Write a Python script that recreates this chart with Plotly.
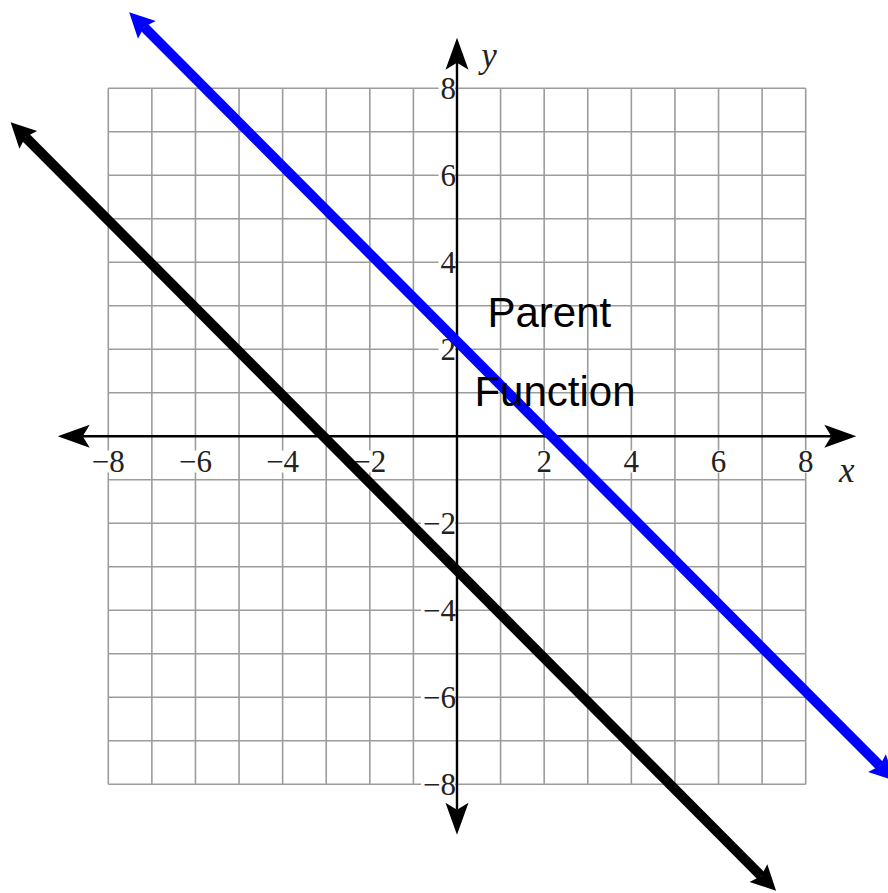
import math

import plotly.graph_objects as go

# canvas / axis window (the graph paper fills the whole picture)
W, H = 888, 893
X_RANGE = [-10.484, 9.888]
Y_RANGE = [-10.50, 10.03]

GRID = list(range(-8, 9))
X_TICKS = [-8, -6, -4, -2, 2, 4, 6, 8]
X_LABELS = ["−8", "−6", "−4", "−2", "2", "4", "6", "8"]
Y_TICKS = [8, 6, 4, 2, -2, -4, -6, -8]
Y_LABELS = ["8", "6", "4", "2", "−2", "−4", "−6", "−8"]
AXIS_END = 9.16

# the two lines, tip to tip
BLUE_X = [-7.52, 10.04]
BLUE_Y = [9.75, -7.92]
BLACK_X = [-10.24, 7.32]
BLACK_Y = [7.22, -10.45]

NOTE_TEXT = ["Parent", "Function"]
NOTE_X = [0.70, 0.40]
NOTE_Y = [2.76, 0.935]

SX = W / (X_RANGE[1] - X_RANGE[0])
SY = H / (Y_RANGE[1] - Y_RANGE[0])


def to_px(x, y):
    return (x - X_RANGE[0]) * SX, (Y_RANGE[1] - y) * SY


def to_data(px, py):
    return X_RANGE[0] + px / SX, Y_RANGE[1] - py / SY


def head(x0, y0, x1, y1, length, width, notch):
    """Swept arrowhead at (x1, y1) pointing away from (x0, y0); sizes in px.
    Returns the svg path (data coords) and the point where the shaft should stop."""
    ax, ay = to_px(x0, y0)
    tx, ty = to_px(x1, y1)
    d = math.hypot(tx - ax, ty - ay)
    ux, uy = (tx - ax) / d, (ty - ay) / d
    nx, ny = -uy, ux
    bx, by = tx - ux * length, ty - uy * length
    pts = [(tx, ty),
           (bx + nx * width / 2, by + ny * width / 2),
           (tx - ux * (length - notch), ty - uy * (length - notch)),
           (bx - nx * width / 2, by - ny * width / 2)]
    pts = [to_data(*p) for p in pts]
    path = "M" + " L".join(f"{x:.4f},{y:.4f}" for x, y in pts) + " Z"
    return path, pts[2]


def arrow_line(xs, ys, color, lw, length, width, notch):
    p1, n1 = head(xs[1], ys[1], xs[0], ys[0], length, width, notch)
    p2, n2 = head(xs[0], ys[0], xs[1], ys[1], length, width, notch)
    trace = go.Scatter(x=[n1[0], n2[0]], y=[n1[1], n2[1]], mode="lines",
                       line=dict(color=color, width=lw), hoverinfo="skip")
    shapes = [dict(type="path", path=p, xref="x", yref="y", fillcolor=color,
                   line=dict(width=0), layer="above") for p in (p1, p2)]
    return trace, shapes


shapes = []
# graph paper
for g in GRID:
    shapes.append(dict(type="line", x0=g, x1=g, y0=GRID[0], y1=GRID[-1], xref="x", yref="y",
                       line=dict(color="#9c9c9c", width=1.6), layer="below"))
    shapes.append(dict(type="line", x0=GRID[0], x1=GRID[-1], y0=g, y1=g, xref="x", yref="y",
                       line=dict(color="#9c9c9c", width=1.6), layer="below"))

FS = 31  # tick label font size
def text_w(s):
    return sum(0.564 if c == "−" else 0.5 for c in s) * FS


# white patches behind the tick labels
xl_y = to_data(0, to_px(0, 0)[1] + 25.2)[1]
for t, s in zip(X_TICKS, X_LABELS):
    hw = (text_w(s) / 2 + 1) / SX
    shapes.append(dict(type="rect", x0=t - hw, x1=t + hw, y0=xl_y - 11 / SY, y1=xl_y + 11 / SY,
                       xref="x", yref="y", fillcolor="white", line=dict(width=0), layer="below"))
yl_x = -2 / SX
for t, s in zip(Y_TICKS, Y_LABELS):
    shapes.append(dict(type="rect", x0=yl_x - (text_w(s) + 1) / SX, x1=yl_x, y0=t - 11 / SY,
                       y1=t + 11 / SY, xref="x", yref="y", fillcolor="white", line=dict(width=0),
                       layer="below"))

fig = go.Figure()

# tick labels (drawn under the lines)
fig.add_trace(go.Scatter(x=X_TICKS, y=[xl_y - 2.6 / SY] * len(X_TICKS), text=X_LABELS,
                         mode="text", textposition="middle center", hoverinfo="skip",
                         textfont=dict(family="Liberation Serif", size=FS, color="#222")))
fig.add_trace(go.Scatter(x=[yl_x + 1 / SX] * len(Y_TICKS), y=[t - 2.6 / SY for t in Y_TICKS],
                         text=Y_LABELS, mode="text", textposition="middle left", hoverinfo="skip",
                         textfont=dict(family="Liberation Serif", size=FS, color="#222")))

# axes with arrows
for xs, ys in (([-AXIS_END, AXIS_END], [0, 0]), ([0, 0], [-AXIS_END, AXIS_END])):
    tr, sh = arrow_line(xs, ys, "black", 2.4, 32, 23, 7)
    fig.add_trace(tr)
    shapes += sh

fig.add_trace(go.Scatter(x=[8.94], y=[-0.85], text=["<i>x</i>"], mode="text", hoverinfo="skip",
                         textfont=dict(family="Liberation Serif", size=35, color="#222")))
fig.add_trace(go.Scatter(x=[0.734], y=[8.69], text=["<i>y</i>"], mode="text", hoverinfo="skip",
                         textfont=dict(family="Liberation Serif", size=35, color="#222")))

for xs, ys, c in ((BLACK_X, BLACK_Y, "black"), (BLUE_X, BLUE_Y, "#0000ff")):
    tr, sh = arrow_line(xs, ys, c, 10, 25, 25, 4)
    fig.add_trace(tr)
    shapes += sh

fig.add_trace(go.Scatter(x=NOTE_X, y=NOTE_Y, text=NOTE_TEXT, mode="text",
                         textposition="middle right", hoverinfo="skip",
                         textfont=dict(family="Liberation Sans, Arial", size=42, color="black")))

fig.update_layout(
    width=W, height=H, margin=dict(l=0, r=0, t=0, b=0),
    paper_bgcolor="white", plot_bgcolor="white", showlegend=False,
    xaxis=dict(range=X_RANGE, visible=False, fixedrange=True),
    yaxis=dict(range=Y_RANGE, visible=False, fixedrange=True),
    shapes=shapes)
# drop the browser's default 8px page margin so the figure sits at the window corner
fig.write_html("out.html", config={"displayModeBar": False},
               post_script="document.body.style.margin='0';document.body.style.overflow='hidden';")
